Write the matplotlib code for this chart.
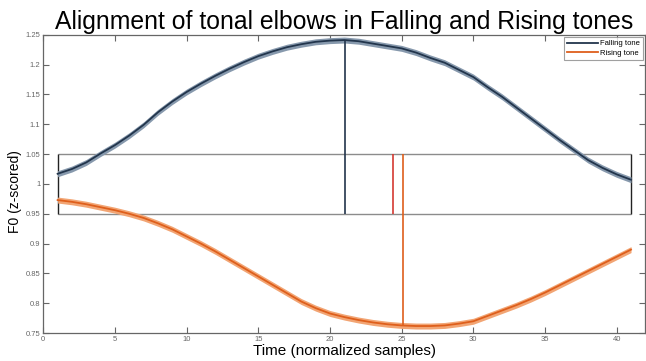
import numpy as np
import matplotlib
matplotlib.use("Agg")
import matplotlib.pyplot as plt

plt.rcParams['font.family'] = ['Liberation Sans', 'DejaVu Sans']

# normalized sample index
t = np.arange(1, 42)

falling = [1.017, 1.025, 1.036, 1.051, 1.065, 1.081, 1.099, 1.120, 1.138, 1.154,
           1.168, 1.181, 1.193, 1.204, 1.214, 1.222, 1.229, 1.234, 1.238, 1.240,
           1.241, 1.239, 1.235, 1.231, 1.227, 1.220, 1.211, 1.203, 1.191, 1.179,
           1.162, 1.146, 1.128, 1.110, 1.092, 1.074, 1.057, 1.040, 1.027, 1.016,
           1.007]
rising = [0.973, 0.970, 0.966, 0.961, 0.956, 0.950, 0.943, 0.934, 0.924, 0.912,
          0.900, 0.887, 0.873, 0.859, 0.845, 0.831, 0.817, 0.803, 0.792, 0.783,
          0.777, 0.772, 0.768, 0.765, 0.763, 0.762, 0.762, 0.763, 0.766, 0.770,
          0.779, 0.788, 0.797, 0.807, 0.818, 0.830, 0.842, 0.854, 0.866, 0.878,
          0.890]
band = 0.005  # half width of the shaded error band

# elbow positions
elbow_fall = 21.07
elbow_rise = 25.07
elbow_mid = 24.37
win_x = [1, 41]
win_y = [0.95, 1.05]

navy = "#22354c"
navy_band = "#8799ad"
orange = "#de5f1c"
orange_band = "#f2a574"
red = "#d43a32"

fig = plt.figure(figsize=(6.46, 3.61), dpi=100)
ax = fig.add_axes([0.067, 0.077, 0.932, 0.827])

f = np.array(falling)
r = np.array(rising)
ax.fill_between(t, f - band, f + band, color=navy_band, lw=0, zorder=2)
ax.fill_between(t, r - band, r + band, color=orange_band, lw=0, zorder=2)
ax.plot(t, f, color=navy, lw=1.3, label="Falling tone", zorder=3)
ax.plot(t, r, color=orange, lw=1.3, label="Rising tone", zorder=3)

# window box
ax.hlines(win_y, win_x[0], win_x[1], color="#8c8c8c", lw=1.0, zorder=1)
ax.vlines(win_x, win_y[0], win_y[1], color="#222222", lw=1.0, zorder=1)

# elbow markers
ax.vlines(elbow_fall, win_y[0], max(falling), color=navy, lw=1.2, zorder=4)
ax.vlines(elbow_mid, win_y[0], win_y[1], color=red, lw=1.2, zorder=4)
ax.vlines(elbow_rise, min(rising), win_y[1], color=orange, lw=1.2, zorder=4)

ax.set_xlim(0, 42)
ax.set_ylim(0.75, 1.25)
ax.set_xticks(range(0, 41, 5))
yt = np.round(np.arange(0.75, 1.2501, 0.05), 2)
ax.set_yticks(yt)
ax.set_yticklabels(["%g" % v for v in yt])
ax.tick_params(direction="in", length=4, width=0.8, colors="#666666",
               labelsize=5.5, top=True, right=True, pad=2)
for s in ax.spines.values():
    s.set_color("#666666")
    s.set_linewidth(0.9)

ax.set_title("Alignment of tonal elbows in Falling and Rising tones",
             fontsize=17.8, pad=4)
ax.set_xlabel("Time (normalized samples)", fontsize=11, labelpad=1)
ax.set_ylabel("F0 (z-scored)", fontsize=10)
ax.yaxis.set_label_coords(-0.035, 0.475)

leg = ax.legend(loc="upper right", fontsize=5.5, frameon=True, fancybox=False,
                borderpad=0.4, handlelength=4, handletextpad=0.3,
                borderaxespad=0.3, labelspacing=0.3)
leg.get_frame().set_edgecolor("#888888")
leg.get_frame().set_linewidth(0.8)

fig.savefig("out.png", dpi=100)
